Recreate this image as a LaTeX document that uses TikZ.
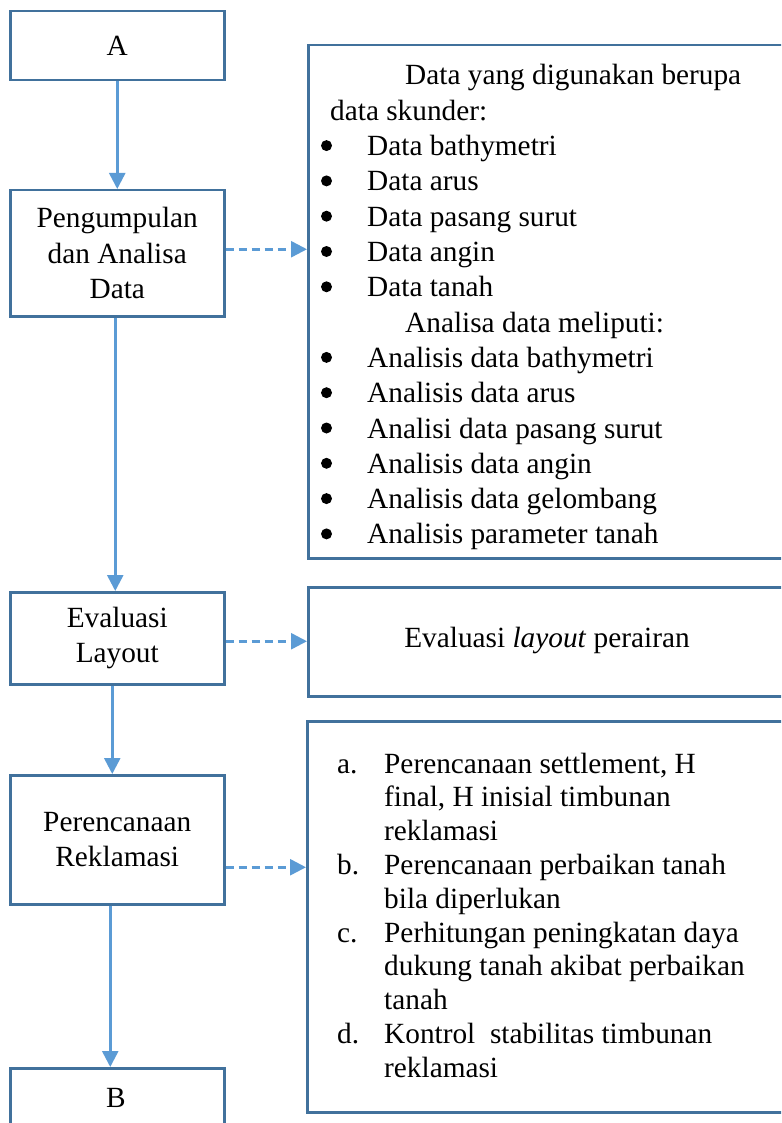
\documentclass[tikz,border=0pt]{standalone}
\usepackage{fontspec}
\setmainfont{Liberation Serif}
\usetikzlibrary{arrows.meta}
\definecolor{boxc}{HTML}{41719C}
\definecolor{arrc}{HTML}{5B9BD5}
\begin{document}
\begin{tikzpicture}[x=1pt,y=-1pt,
  box/.style={draw=boxc,line width=2.5pt,minimum width=214pt,inner sep=0pt,anchor=north west,align=center,font=\fontsize{29.3}{35.3}\selectfont},
  panel/.style={draw=boxc,line width=2.5pt,inner sep=0pt,anchor=north west},
  txt/.style={anchor=base west,inner sep=0pt,font=\fontsize{29.3}{35.3}\selectfont},
  bul/.style={txt,label={[name=\tikzlastnode-dot,fill=black,circle,inner sep=0pt,minimum size=11pt,anchor=center,xshift=5.5pt,yshift=10pt]base west:}},
  arr/.style={draw=arrc,line width=2.5pt,-{Triangle[length=16pt,width=16pt]}},
  darr/.style={arr,dash pattern=on 8pt off 5pt}]
\useasboundingbox (0,0) rectangle (781,1123);
\clip (0,0) rectangle (781,1123);
% left column
\node[box,minimum height=69pt]  (A) at (9,10)   {A};
\node[box,minimum height=126pt] (P) at (9,189)  {Pengumpulan\\dan Analisa\\Data};
\node[box,minimum height=92pt]  (E) at (9,591)  {Evaluasi\\Layout};
\node[box,minimum height=129pt] (R) at (9,774)  {Perencanaan\\Reklamasi};
\node[box,minimum height=90pt]  (B) at (9,1067) {};
\node[anchor=base,inner sep=0pt,font=\fontsize{29.3}{35.3}\selectfont] (Bt) at (116,1107) {B};
% right panels
\node[panel,minimum width=488pt,minimum height=513pt] (box1) at (307,44) {};
\node[panel,minimum width=480pt,minimum height=109pt] (box2) at (307,586) {};
\node[panel,minimum width=488pt,minimum height=391pt] (box3) at (306,720) {};
% box1 text
\node[txt] (t0) at (405,85) {Data yang digunakan berupa};
\node[txt] (t1) at (330,120.3) {data skunder:};
\node[bul] (t2) at (321,155.6) {\hspace*{46pt}Data bathymetri};
\node[bul] (t3) at (321,190.9) {\hspace*{46pt}Data arus};
\node[bul] (t4) at (321,226.2) {\hspace*{46pt}Data pasang surut};
\node[bul] (t5) at (321,261.5) {\hspace*{46pt}Data angin};
\node[bul] (t6) at (321,296.8) {\hspace*{46pt}Data tanah};
\node[txt] (t7) at (405,332.1) {Analisa data meliputi:};
\node[bul] (t8) at (321,367.4) {\hspace*{46pt}Analisis data bathymetri};
\node[bul] (t9) at (321,402.7) {\hspace*{46pt}Analisis data arus};
\node[bul] (t10) at (321,438) {\hspace*{46pt}Analisi data pasang surut};
\node[bul] (t11) at (321,473.3) {\hspace*{46pt}Analisis data angin};
\node[bul] (t12) at (321,508.6) {\hspace*{46pt}Analisis data gelombang};
\node[bul] (t13) at (321,543.9) {\hspace*{46pt}Analisis parameter tanah};
% box2 text
\node[inner sep=0pt,font=\fontsize{29.3}{35.3}\selectfont] (e1) at (547,640) {Evaluasi \textit{layout} perairan};
% box3 text
\node[txt] (r0) at (337,773) {\makebox[47pt][l]{a.}Perencanaan settlement, H};
\node[txt] (r1) at (384,806.8) {final, H inisial timbunan};
\node[txt] (r2) at (384,840.6) {reklamasi};
\node[txt] (r3) at (337,874.4) {\makebox[47pt][l]{b.}Perencanaan perbaikan tanah};
\node[txt] (r4) at (384,908.2) {bila diperlukan};
\node[txt] (r5) at (337,942) {\makebox[47pt][l]{c.}Perhitungan peningkatan daya};
\node[txt] (r6) at (384,975.8) {dukung tanah akibat perbaikan};
\node[txt] (r7) at (384,1009.6) {tanah};
\node[txt] (r8) at (337,1043.4) {\makebox[47pt][l]{d.}Kontrol\ \ stabilitas timbunan};
\node[txt] (r9) at (384,1077.2) {reklamasi};
% connectors
\draw[arr] (A.south) -- (P.north);
\draw[arr] ([xshift=-2pt]P.south) -- ([xshift=-2pt]E.north);
\draw[arr] ([xshift=-5pt]E.south) -- ([xshift=-5pt]R.north);
\draw[arr] ([xshift=-7pt]R.south) -- ([xshift=-7pt]B.north);
\draw[darr] ([yshift=4pt]P.east) -- ([yshift=4pt]P.east -| box1.west);
\draw[darr] ([yshift=-3pt]E.east) -- ([yshift=-3pt]E.east -| box2.west);
\draw[darr] ([yshift=-27.5pt]R.east) -- ([yshift=-27.5pt]R.east -| box3.west);
\end{tikzpicture}
\end{document}
